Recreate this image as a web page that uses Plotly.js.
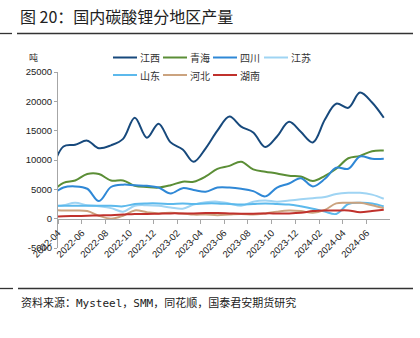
<!DOCTYPE html>
<html>
<head>
<meta charset="utf-8">
<script src="https://cdn.plot.ly/plotly-3.0.1.min.js"></script>
<style>html,body{margin:0;padding:0;background:#fff;}#chart{width:420px;height:338px;}</style>
</head>
<body>
<div id="chart"></div>
<script>
// Monthly points (mid-month); the 2022-03 point lies just left of the axis range
const months = ['2022-03','2022-04','2022-05','2022-06','2022-07','2022-08','2022-09','2022-10','2022-11','2022-12',
  '2023-01','2023-02','2023-03','2023-04','2023-05','2023-06','2023-07','2023-08','2023-09','2023-10','2023-11','2023-12',
  '2024-01','2024-02','2024-03','2024-04','2024-05','2024-06','2024-07'];
const seriesNames = ['江西','青海','四川','江苏','山东','河北','湖南'];
const jiangxi = [8000,12300,12600,13300,12000,12500,13600,17200,13800,16200,13000,11800,9700,12000,15000,17400,15700,14700,12200,14000,16500,14800,13000,16900,19600,18900,21500,19800,17200];
const qinghai = [4500,6100,6500,7600,7600,6500,6500,5600,5400,5300,5700,6300,6300,7200,8500,9000,9700,8400,8000,7700,7300,7200,6400,7300,8500,10300,10700,11500,11600];
const sichuan = [4000,5300,5500,5100,3000,5400,5800,5700,5600,5300,4300,5200,4900,4600,5300,5300,5100,4700,3800,5300,6000,6900,5500,6800,8700,8500,10600,10200,10200];
const jiangsu = [2000,2300,2700,2300,2100,1800,1200,2200,2300,2200,1900,1700,2400,2800,2900,2600,2200,2900,3100,2900,3100,3300,3500,3700,4200,4400,4400,4100,3400];
const shandong = [2200,2200,2200,2200,2200,2200,2100,2500,2600,2600,2500,2600,2500,2600,2600,2500,2400,2500,2600,2500,2400,2100,1700,1200,800,2500,2700,2600,2100];
const hebei = [1500,1400,1400,1300,500,0,500,1400,1100,900,1000,900,700,700,600,700,800,700,900,1200,1400,1300,1000,1500,2600,2700,2700,2300,1800];
const hunan = [300,400,450,500,550,600,700,800,800,850,900,900,900,950,950,900,850,850,900,900,900,1000,1300,1400,1400,1400,1100,1300,1500];
const yTickVals = [-5000,0,5000,10000,15000,20000,25000];
const yTickText = ['-5000','0','5000','10000','15000','20000','25000'];

const seriesValues = [jiangxi, qinghai, sichuan, jiangsu, shandong, hebei, hunan];
const colors = ['#17497c','#5b8e36','#2f88d6','#9fd4f3','#5cb9ec','#cba37f','#c0312c'];

const W = 420, H = 338, L = 58, R = 390, T = 72, B = 248;
const px = x => (x - L) / (R - L);
const py = y => (B - y) / (B - T);

const xDates = months.map(m => m + '-15');
const traces = seriesValues.map((v, i) => ({
  type: 'scatter', mode: 'lines', name: seriesNames[i], x: xDates, y: v,
  line: {color: colors[i], width: 2, shape: 'spline', smoothing: 1},
  showlegend: false, hoverinfo: 'skip'
}));

const shapes = [
  {type:'line', xref:'paper', yref:'paper', x0:px(0), x1:px(12), y0:py(33.5), y1:py(33.5), line:{color:'#333', width:1.3}},
  {type:'line', xref:'paper', yref:'paper', x0:px(17), x1:px(413), y0:py(33.5), y1:py(33.5), line:{color:'#333', width:1.3}},
  {type:'line', xref:'paper', yref:'paper', x0:px(0), x1:px(13), y0:py(288.5), y1:py(288.5), line:{color:'#333', width:1.3}},
  {type:'line', xref:'paper', yref:'paper', x0:px(18), x1:px(413), y0:py(288.5), y1:py(288.5), line:{color:'#333', width:1.3}}
];
const annotations = [
  {text:'吨', xref:'paper', yref:'paper', x:px(27), y:py(57), xanchor:'left', yanchor:'middle', showarrow:false,
   font:{family:'Noto Sans CJK SC', size:9, color:'#333'}},
  {text:'资料来源：Mysteel，SMM，同花顺，国泰君安期货研究', xref:'paper', yref:'paper', x:px(19), y:py(303), xanchor:'left', yanchor:'middle', showarrow:false,
   font:{family:'DejaVu Sans Mono, Noto Sans CJK SC', size:11, color:'#222'}}
];
// custom legend
const colStarts = [113, 163, 213, 264];
const rowYs = [57.5, 75];
seriesNames.forEach((n, i) => {
  const cx = colStarts[i % 4], cy = rowYs[Math.floor(i / 4)];
  shapes.push({type:'line', xref:'paper', yref:'paper', x0:px(cx), x1:px(cx + 24), y0:py(cy), y1:py(cy), line:{color:colors[i], width:2}});
  annotations.push({text:n, xref:'paper', yref:'paper', x:px(cx + 25), y:py(cy), xanchor:'left', yanchor:'middle', showarrow:false,
    font:{family:'Noto Sans CJK SC', size:10, color:'#333'}});
});

const layout = {
  width: W, height: H,
  margin: {l: L, r: W - R, t: T, b: H - B, pad: 0},
  paper_bgcolor: '#fff', plot_bgcolor: '#fff',
  title: {text: '图 20：国内碳酸锂分地区产量', x: 20 / W, xanchor: 'left', xref: 'container',
          y: 1 - 17 / H, yanchor: 'middle', yref: 'container',
          font: {family: 'Noto Sans CJK SC', size: 16, color: '#222'}},
  xaxis: {type: 'date', range: ['2022-04-01', '2024-07-31'], tick0: '2022-04-01', dtick: 'M2', tickformat: '%Y-%m',
          tickangle: -45, anchor: 'free', position: 1 / 6, showline: true, linecolor: '#a6a6a6', linewidth: 1,
          ticks: 'outside', ticklen: 4, tickcolor: '#a6a6a6', showgrid: false, zeroline: false,
          tickfont: {family: 'Liberation Sans, Arial', size: 9.5, color: '#222'}},
  yaxis: {range: [-5000, 25000], tickmode: 'array', tickvals: yTickVals, ticktext: yTickText, showline: true, linecolor: '#a6a6a6', linewidth: 1,
          ticks: 'outside', ticklen: 3, tickcolor: '#a6a6a6', showgrid: false, zeroline: false,
          tickfont: {family: 'Liberation Sans, Arial', size: 9.5, color: '#222'}},
  shapes: shapes, annotations: annotations, showlegend: false
};
Plotly.newPlot('chart', traces, layout, {displayModeBar: false, staticPlot: true});
</script>
</body>
</html>
